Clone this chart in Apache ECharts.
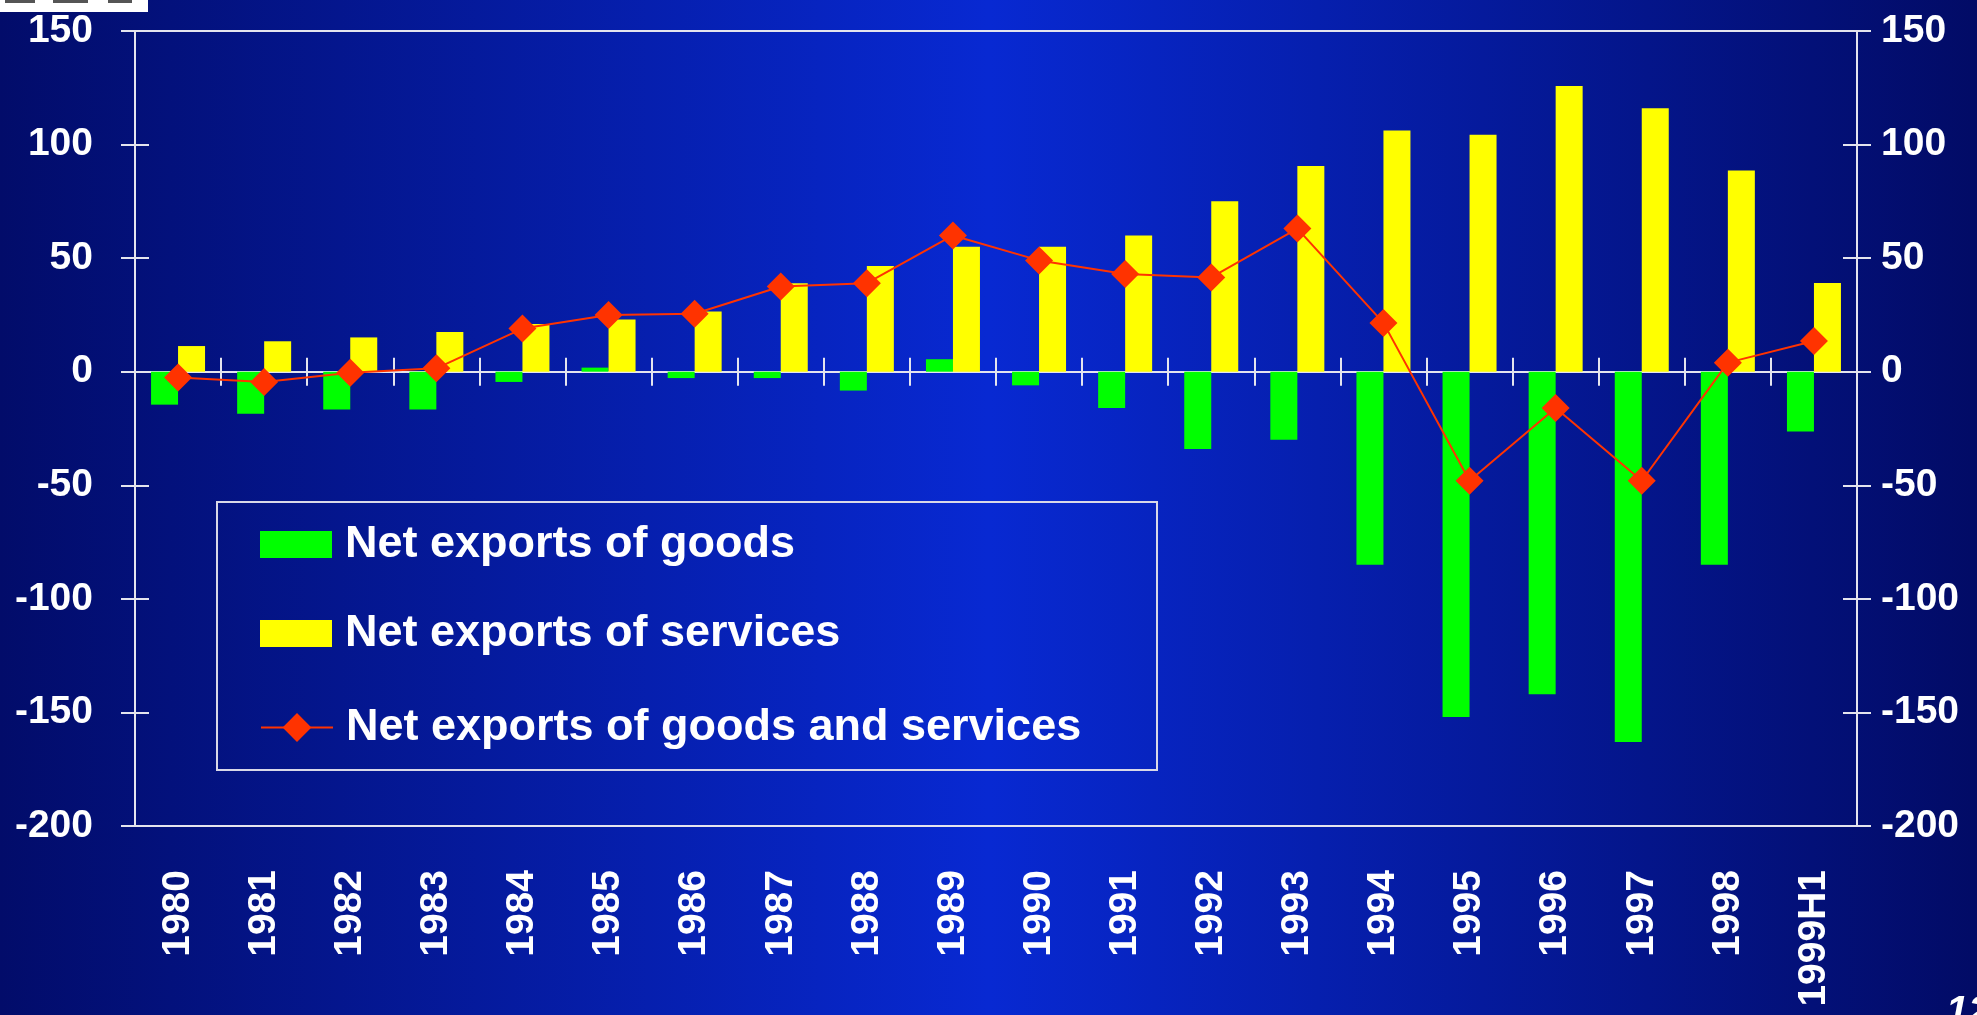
<!DOCTYPE html>
<html>
<head>
<meta charset="utf-8">
<script src="https://cdn.jsdelivr.net/npm/echarts@6/dist/echarts.min.js"></script>
<style>
  html, body { margin: 0; padding: 0; background: #020c6c; }
  #chart { width: 1977px; height: 1015px; }
</style>
</head>
<body>
<div id="chart"></div>
<script>
// ---- Data ----
const categories = ['1980','1981','1982','1983','1984','1985','1986','1987','1988','1989',
                    '1990','1991','1992','1993','1994','1995','1996','1997','1998','1999H1'];
const goods = [-14.5, -18.5, -16.6, -16.6, -4.5, 1.8, -2.8, -2.8, -8.3, 5.5,
               -6, -16, -34, -30, -85, -152, -142, -163, -85, -26.3];
const services = [11.3, 13.4, 15.1, 17.5, 21, 23, 26.5, 39, 46.5, 55,
                  55, 60, 75, 90.6, 106.2, 104.3, 125.8, 116, 88.6, 39.1];
const total = [-2.5, -4.5, -0.5, 1.5, 19, 25, 25.5, 37.5, 39, 60,
               49, 43, 41.5, 63, 21.5, -48, -16, -48, 4, 13.5];
const yTicks = { min: -200, max: 150, interval: 50 };
const seriesNames = ['Net exports of goods', 'Net exports of services', 'Net exports of goods and services'];

const FONT = 'Liberation Sans, Arial, sans-serif';
const LINE = '#e4e4ee';

const chart = echarts.init(document.getElementById('chart'), null, { renderer: 'canvas' });

const labelStyle = { color: '#ffffff', fontSize: 39, fontWeight: 'bold', fontFamily: FONT };

function yAx(pos, showLabel, inside) {
  return {
    type: 'value', position: pos, min: yTicks.min, max: yTicks.max, interval: yTicks.interval,
    splitLine: { show: false },
    axisLine: { show: showLabel, onZero: false, lineStyle: { color: LINE, width: 2 } },
    axisTick: { show: true, inside: inside, length: 14, lineStyle: { color: LINE, width: 2 } },
    axisLabel: Object.assign({ show: showLabel, margin: pos === 'left' ? 42 : 24 }, labelStyle)
  };
}

function legendAt(name, top, itemH, icon) {
  const l = {
    data: [name], orient: 'vertical', left: 260, top: top, padding: 0,
    itemWidth: 72, itemHeight: itemH, selectedMode: false,
    textStyle: { color: '#ffffff', fontSize: 45, fontWeight: 'bold', fontFamily: FONT, padding: [0, 0, 0, 8] }
  };
  if (icon) l.icon = icon;
  return l;
}

const option = {
  animation: false,
  grid: { left: 135, right: 120, top: 31, bottom: 189, containLabel: false },
  graphic: [
    { type: 'rect', z: -100, silent: true, shape: { x: 0, y: 0, width: 1977, height: 1015 },
      style: { fill: { type: 'linear', x: 0, y: 0, x2: 1, y2: 0,
        colorStops: [ { offset: 0, color: '#020c6a' }, { offset: 0.5, color: '#0829d2' }, { offset: 1, color: '#020b66' } ] } } },
    { type: 'rect', z: 100, shape: { x: 217, y: 502, width: 940, height: 268 },
      style: { fill: 'none', stroke: '#d8d8e8', lineWidth: 2 } },
    { type: 'rect', z: 100, shape: { x: 0, y: 0, width: 148, height: 12 }, style: { fill: '#ffffff' } },
    { type: 'rect', z: 101, shape: { x: 5, y: 0, width: 30, height: 3 }, style: { fill: '#555555' } },
    { type: 'rect', z: 101, shape: { x: 53, y: 0, width: 35, height: 3 }, style: { fill: '#555555' } },
    { type: 'rect', z: 101, shape: { x: 108, y: 0, width: 24, height: 3 }, style: { fill: '#555555' } },
    { type: 'text', z: 100, left: 1946, top: 993,
      style: { text: '12', fill: '#ffffff', font: 'italic bold 40px ' + FONT } }
  ],
  legend: [
    legendAt(seriesNames[0], 522, 27, 'rect'),
    legendAt(seriesNames[1], 611, 27, 'rect'),
    legendAt(seriesNames[2], 705, 36, null)
  ],
  xAxis: [
    { type: 'category', data: categories, position: 'bottom',
      axisLine: { onZero: false, lineStyle: { color: LINE, width: 2 } },
      axisTick: { show: false },
      axisLabel: Object.assign({ rotate: 90, interval: 0, margin: 44 }, labelStyle) },
    { type: 'category', data: categories, position: 'bottom',
      axisLine: { onZero: true, lineStyle: { color: LINE, width: 2 } },
      axisTick: { show: true, inside: false, length: 14, lineStyle: { color: LINE, width: 2 } },
      axisLabel: { show: false } },
    { type: 'category', data: categories, position: 'bottom',
      axisLine: { onZero: true, lineStyle: { color: LINE, width: 2 } },
      axisTick: { show: true, inside: true, length: 14, lineStyle: { color: LINE, width: 2 } },
      axisLabel: { show: false } },
    { type: 'category', data: categories, position: 'top',
      axisLine: { onZero: false, lineStyle: { color: LINE, width: 2 } },
      axisTick: { show: false }, axisLabel: { show: false } }
  ],
  yAxis: [ yAx('left', true, false), yAx('right', true, false), yAx('left', false, true), yAx('right', false, true) ],
  series: [
    { name: seriesNames[0], type: 'bar', data: goods, barWidth: 27, barGap: '0%',
      itemStyle: { color: '#00ff00' }, z: 2 },
    { name: seriesNames[1], type: 'bar', data: services, barWidth: 27, barGap: '0%',
      itemStyle: { color: '#ffff00' }, z: 2 },
    { name: seriesNames[2], type: 'line', data: total, symbol: 'diamond', symbolSize: 28,
      lineStyle: { color: '#ff3300', width: 2 }, itemStyle: { color: '#ff3300' }, z: 5 }
  ]
};
chart.setOption(option);
</script>
</body>
</html>
